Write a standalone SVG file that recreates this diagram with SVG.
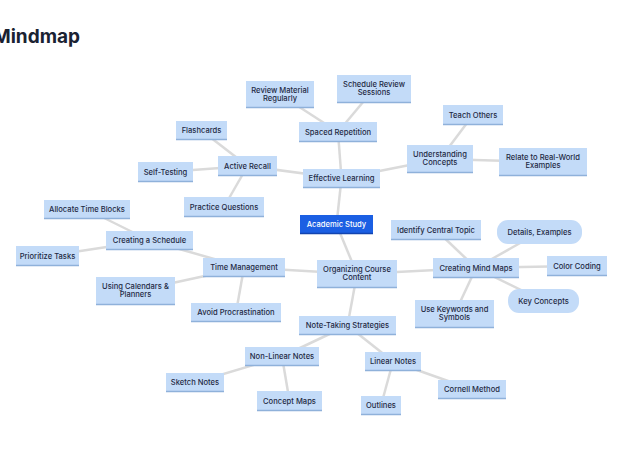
<svg xmlns="http://www.w3.org/2000/svg" width="625" height="460" viewBox="0 0 625 460">
<style>
.n rect{fill:#c3dbf8}
.n .b{stroke:#8fb1da;stroke-width:1.5}
.n text{font-family:Inter,"Liberation Sans",sans-serif;font-size:7.6px;font-weight:500;fill:#1f2a44;text-anchor:middle}
.root rect{fill:#1b5fe3}
.root .b{stroke:#1244b0;stroke-width:1.5}
.root text{fill:#ffffff}
#edges line{stroke:#dadada;stroke-width:2.5}
.title{font-family:Inter,"Liberation Sans",sans-serif;font-size:19px;font-weight:700;fill:#1a2232}
</style>
<rect width="625" height="460" fill="#ffffff"/>
<text class="title" x="-7" y="43">Mindmap</text>
<g id="edges">
<line x1="336.5" y1="224.5" x2="341.5" y2="178.5"/>
<line x1="336.5" y1="224.5" x2="357" y2="274"/>
<line x1="341.5" y1="178.5" x2="338" y2="132"/>
<line x1="341.5" y1="178.5" x2="247.5" y2="166"/>
<line x1="341.5" y1="178.5" x2="440" y2="159"/>
<line x1="338" y1="132" x2="280" y2="94.5"/>
<line x1="338" y1="132" x2="374" y2="89"/>
<line x1="247.5" y1="166" x2="201.5" y2="130.5"/>
<line x1="247.5" y1="166" x2="165.5" y2="172"/>
<line x1="247.5" y1="166" x2="224" y2="207"/>
<line x1="440" y1="159" x2="473" y2="115"/>
<line x1="440" y1="159" x2="543" y2="162"/>
<line x1="357" y1="274" x2="244" y2="267.5"/>
<line x1="357" y1="274" x2="476" y2="268"/>
<line x1="357" y1="274" x2="347.5" y2="325.5"/>
<line x1="244" y1="267.5" x2="149.5" y2="240.5"/>
<line x1="244" y1="267.5" x2="135.5" y2="291"/>
<line x1="244" y1="267.5" x2="236" y2="312.5"/>
<line x1="149.5" y1="240.5" x2="87" y2="209.5"/>
<line x1="149.5" y1="240.5" x2="47.5" y2="256"/>
<line x1="476" y1="268" x2="436" y2="230"/>
<line x1="476" y1="268" x2="539.5" y2="232"/>
<line x1="476" y1="268" x2="577" y2="266"/>
<line x1="476" y1="268" x2="543.5" y2="301"/>
<line x1="476" y1="268" x2="454.5" y2="314"/>
<line x1="347.5" y1="325.5" x2="282" y2="356.5"/>
<line x1="347.5" y1="325.5" x2="393" y2="361.5"/>
<line x1="282" y1="356.5" x2="195" y2="382.5"/>
<line x1="282" y1="356.5" x2="289.5" y2="401"/>
<line x1="393" y1="361.5" x2="381" y2="405.5"/>
<line x1="393" y1="361.5" x2="472" y2="389.5"/>
</g>
<g id="academic-study" class="n root"><rect x="300" y="215" width="73" height="19"/><line class="b" x1="300" y1="233.5" x2="373" y2="233.5"/><text x="336.5" y="227.3">Academic Study</text></g>
<g id="effective-learning" class="n"><rect x="303" y="169" width="77" height="19"/><line class="b" x1="303" y1="187.5" x2="380" y2="187.5"/><text x="341.5" y="181.3">Effective Learning</text></g>
<g id="spaced-repetition" class="n"><rect x="299" y="122" width="78" height="20"/><line class="b" x1="299" y1="141.5" x2="377" y2="141.5"/><text x="338" y="134.8">Spaced Repetition</text></g>
<g id="review-material" class="n"><rect x="246" y="81" width="68" height="27"/><line class="b" x1="246" y1="107.5" x2="314" y2="107.5"/><text x="280" y="92.5">Review Material</text><text x="280" y="100.8">Regularly</text></g>
<g id="schedule-review" class="n"><rect x="337" y="75" width="74" height="28"/><line class="b" x1="337" y1="102.5" x2="411" y2="102.5"/><text x="374" y="87">Schedule Review</text><text x="374" y="95.3">Sessions</text></g>
<g id="active-recall" class="n"><rect x="218" y="156" width="59" height="20"/><line class="b" x1="218" y1="175.5" x2="277" y2="175.5"/><text x="247.5" y="168.8">Active Recall</text></g>
<g id="flashcards" class="n"><rect x="176" y="121" width="51" height="19"/><line class="b" x1="176" y1="139.5" x2="227" y2="139.5"/><text x="201.5" y="133.3">Flashcards</text></g>
<g id="self-testing" class="n"><rect x="138" y="162" width="55" height="20"/><line class="b" x1="138" y1="181.5" x2="193" y2="181.5"/><text x="165.5" y="174.8">Self-Testing</text></g>
<g id="practice-questions" class="n"><rect x="184" y="197" width="80" height="20"/><line class="b" x1="184" y1="216.5" x2="264" y2="216.5"/><text x="224" y="209.8">Practice Questions</text></g>
<g id="understanding-concepts" class="n"><rect x="407" y="145" width="66" height="28"/><line class="b" x1="407" y1="172.5" x2="473" y2="172.5"/><text x="440" y="157">Understanding</text><text x="440" y="165.3">Concepts</text></g>
<g id="teach-others" class="n"><rect x="443" y="105" width="60" height="20"/><line class="b" x1="443" y1="124.5" x2="503" y2="124.5"/><text x="473" y="117.8">Teach Others</text></g>
<g id="relate-real-world" class="n"><rect x="499" y="148" width="88" height="28"/><line class="b" x1="499" y1="175.5" x2="587" y2="175.5"/><text x="543" y="160">Relate to Real-World</text><text x="543" y="168.3">Examples</text></g>
<g id="organizing-course-content" class="n"><rect x="317" y="260" width="80" height="28"/><line class="b" x1="317" y1="287.5" x2="397" y2="287.5"/><text x="357" y="272">Organizing Course</text><text x="357" y="280.3">Content</text></g>
<g id="time-management" class="n"><rect x="203" y="258" width="82" height="19"/><line class="b" x1="203" y1="276.5" x2="285" y2="276.5"/><text x="244" y="270.3">Time Management</text></g>
<g id="creating-schedule" class="n"><rect x="106" y="231" width="87" height="19"/><line class="b" x1="106" y1="249.5" x2="193" y2="249.5"/><text x="149.5" y="243.3">Creating a Schedule</text></g>
<g id="allocate-time-blocks" class="n"><rect x="44" y="200" width="86" height="19"/><line class="b" x1="44" y1="218.5" x2="130" y2="218.5"/><text x="87" y="212.3">Allocate Time Blocks</text></g>
<g id="prioritize-tasks" class="n"><rect x="16" y="246" width="63" height="20"/><line class="b" x1="16" y1="265.5" x2="79" y2="265.5"/><text x="47.5" y="258.8">Prioritize Tasks</text></g>
<g id="using-calendars" class="n"><rect x="96" y="277" width="79" height="28"/><line class="b" x1="96" y1="304.5" x2="175" y2="304.5"/><text x="135.5" y="289">Using Calendars &amp;</text><text x="135.5" y="297.3">Planners</text></g>
<g id="avoid-procrastination" class="n"><rect x="191" y="303" width="90" height="19"/><line class="b" x1="191" y1="321.5" x2="281" y2="321.5"/><text x="236" y="315.3">Avoid Procrastination</text></g>
<g id="creating-mind-maps" class="n"><rect x="433" y="258" width="86" height="20"/><line class="b" x1="433" y1="277.5" x2="519" y2="277.5"/><text x="476" y="270.8">Creating Mind Maps</text></g>
<g id="identify-central-topic" class="n"><rect x="391" y="220" width="90" height="20"/><line class="b" x1="391" y1="239.5" x2="481" y2="239.5"/><text x="436" y="232.8">Identify Central Topic</text></g>
<g id="details-examples" class="n"><rect x="497" y="220" width="85" height="24" rx="11"/><text x="539.5" y="234.8">Details, Examples</text></g>
<g id="color-coding" class="n"><rect x="547" y="256" width="60" height="20"/><line class="b" x1="547" y1="275.5" x2="607" y2="275.5"/><text x="577" y="268.8">Color Coding</text></g>
<g id="key-concepts" class="n"><rect x="508" y="289" width="71" height="24" rx="11"/><text x="543.5" y="303.8">Key Concepts</text></g>
<g id="use-keywords" class="n"><rect x="415" y="300" width="79" height="28"/><line class="b" x1="415" y1="327.5" x2="494" y2="327.5"/><text x="454.5" y="312">Use Keywords and</text><text x="454.5" y="320.3">Symbols</text></g>
<g id="note-taking-strategies" class="n"><rect x="299" y="316" width="97" height="19"/><line class="b" x1="299" y1="334.5" x2="396" y2="334.5"/><text x="347.5" y="328.3">Note-Taking Strategies</text></g>
<g id="non-linear-notes" class="n"><rect x="245" y="347" width="74" height="19"/><line class="b" x1="245" y1="365.5" x2="319" y2="365.5"/><text x="282" y="359.3">Non-Linear Notes</text></g>
<g id="linear-notes" class="n"><rect x="365" y="352" width="56" height="19"/><line class="b" x1="365" y1="370.5" x2="421" y2="370.5"/><text x="393" y="364.3">Linear Notes</text></g>
<g id="sketch-notes" class="n"><rect x="166" y="373" width="58" height="19"/><line class="b" x1="166" y1="391.5" x2="224" y2="391.5"/><text x="195" y="385.3">Sketch Notes</text></g>
<g id="concept-maps" class="n"><rect x="257" y="391" width="65" height="20"/><line class="b" x1="257" y1="410.5" x2="322" y2="410.5"/><text x="289.5" y="403.8">Concept Maps</text></g>
<g id="outlines" class="n"><rect x="361" y="396" width="40" height="19"/><line class="b" x1="361" y1="414.5" x2="401" y2="414.5"/><text x="381" y="408.3">Outlines</text></g>
<g id="cornell-method" class="n"><rect x="438" y="380" width="68" height="19"/><line class="b" x1="438" y1="398.5" x2="506" y2="398.5"/><text x="472" y="392.3">Cornell Method</text></g>
</svg>
